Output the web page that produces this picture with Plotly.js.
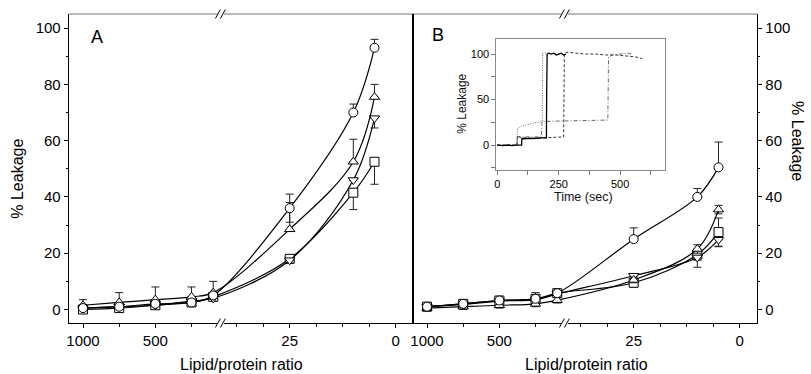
<!DOCTYPE html>
<html>
<head>
<meta charset="utf-8">
<script src="https://cdn.plot.ly/plotly-3.0.1.min.js"></script>
<style>html,body{margin:0;padding:0;background:#fff;}#chart{width:811px;height:374px;}</style>
</head>
<body>
<div id="chart"></div>
<script>
// ---------- DATA ----------
const ratios = [1000, 750, 500, 250, 100, 25, 10, 5];
const tickLabels = [1000, 500, 25, 0];
const minorTickValues = [750, 250, 37.5, 31.25, 18.75, 12.5, 6.25];

// Panel A
const A_circle = [0.5, 1, 2, 2.5, 5, 36, 70, 93];
const A_circle_errPlus = [0, 0, 0, 0, 0, 5, 3, 3];
const A_circle_errMinus = [0, 0, 0, 0, 0, 5, 0, 0];
const A_triUp = [1.5, 2.5, 3.5, 4.5, 6, 28.5, 52.5, 75.5];
const A_triUp_errPlus = [2, 3.5, 4.5, 3.5, 4, 9.5, 8, 4.5];
const A_triUp_errMinus = [0, 0, 0, 0, 0, 0, 0, 0];
const A_triDown = [0.5, 1, 1.5, 3, 4, 17.5, 46, 68];
const A_triDown_errPlus = [0, 0, 0, 0, 0, 0, 0, 0];
const A_triDown_errMinus = [0, 0, 0, 0, 0, 1, 0, 3.5];
const A_square = [0, 0.5, 1.5, 2.5, 4.5, 18, 41.5, 52.5];
const A_square_errPlus = [0, 0, 0, 0, 0, 0, 0, 0];
const A_square_errMinus = [0, 0, 0, 0, 0, 1, 6, 8];

// Panel B
const B_circle = [1, 2, 3.2, 3.8, 5.8, 25, 40, 50.5];
const B_circle_errPlus = [0.5, 0.5, 0.5, 2.2, 0.5, 4, 3, 9];
const B_circle_errMinus = [0.5, 0.5, 0.5, 0.5, 0.5, 0, 0, 0];
const B_triUp = [0.5, 1, 1.5, 2, 3.3, 10.5, 21.5, 35.5];
const B_triUp_errPlus = [1, 1, 1, 1, 1, 1, 1.5, 1.5];
const B_triUp_errMinus = [1, 1, 1, 1, 1, 1, 1.5, 1.5];
const B_triDown = [1, 1.8, 3, 3.5, 5.5, 12, 18.5, 24.8];
const B_triDown_errPlus = [0.5, 0.5, 0.5, 0.5, 0.5, 0, 0, 0];
const B_triDown_errMinus = [0.5, 0.5, 0.5, 1.5, 0.5, 1.5, 3.5, 2.5];
const B_square = [1, 2, 3.2, 3.8, 5.8, 9.5, 19.5, 27.5];
const B_square_errPlus = [1, 1, 1, 1, 1, 1.5, 2, 5];
const B_square_errMinus = [1, 1, 1, 1, 1, 1.5, 2, 5];

// Inset: time traces
const inSolid_t = [0, 20, 40, 60, 80, 99, 100, 120, 140, 160, 180, 200, 201, 203, 210, 220, 230, 240, 250, 260, 270, 280];
const inSolid_y = [0, -0.5, 0, -0.5, 0, 0, 7, 7, 7.5, 7.5, 8, 8, 55, 100, 101, 100, 101, 99, 100, 101, 99, 100];
const inDotted_t = [0, 40, 80, 82, 100, 120, 140, 160, 180, 183, 185, 200, 220];
const inDotted_y = [0, 0, 0, 18, 21, 22.5, 23.5, 24.5, 25.5, 26, 101, 101, 100];
const inDashed_t = [0, 40, 80, 82, 100, 150, 200, 250, 270, 273, 280, 320, 360, 400, 440, 480, 520, 560, 590];
const inDashed_y = [0, 0, 0, 10, 8, 7.5, 8, 8.5, 9, 100, 102, 101, 100, 100, 99, 99, 98, 97, 95];
const inDashDot_t = [0, 80, 82, 100, 140, 180, 182, 250, 300, 350, 400, 450, 453, 470, 500, 530, 545];
const inDashDot_y = [0, 0, 9, 9, 9, 9, 26, 26.5, 27, 27, 27.5, 27.5, 97, 99, 100, 101, 100];

// ---------- broken-axis transform (lipid/protein ratio -> axis position) ----------
function pos(v) { return v >= 44 ? 14 + (1000 - v) * 0.1447 : 220.7 + (25 - v) * 4.24; }
const xPos = ratios.map(pos);
const breakPos = 152.4;

const FONT = 'Liberation Sans, Arial, sans-serif';

function series(y, plus, minus, symbol, xa, ya) {
  return {
    x: xPos, y: y, xaxis: xa, yaxis: ya, type: 'scatter', mode: 'lines+markers',
    line: {color: '#000', width: 1.2, shape: 'spline', smoothing: 1},
    marker: {symbol: symbol, size: 9, color: '#fff', line: {color: '#000', width: 1}},
    error_y: {type: 'data', symmetric: false, array: plus, arrayminus: minus, color: '#222', thickness: 1, width: 4},
    showlegend: false, hoverinfo: 'skip'
  };
}
function tline(t, y, dash, color, width) {
  return {x: t, y: y, xaxis: 'x3', yaxis: 'y3', type: 'scatter', mode: 'lines',
    line: {color: color, width: width, dash: dash}, showlegend: false, hoverinfo: 'skip'};
}

const data = [
  series(A_square, A_square_errPlus, A_square_errMinus, 'square', 'x', 'y'),
  series(A_triDown, A_triDown_errPlus, A_triDown_errMinus, 'triangle-down', 'x', 'y'),
  series(A_triUp, A_triUp_errPlus, A_triUp_errMinus, 'triangle-up', 'x', 'y'),
  series(A_circle, A_circle_errPlus, A_circle_errMinus, 'circle', 'x', 'y'),
  series(B_square, B_square_errPlus, B_square_errMinus, 'square', 'x2', 'y2'),
  series(B_triDown, B_triDown_errPlus, B_triDown_errMinus, 'triangle-down', 'x2', 'y2'),
  series(B_triUp, B_triUp_errPlus, B_triUp_errMinus, 'triangle-up', 'x2', 'y2'),
  series(B_circle, B_circle_errPlus, B_circle_errMinus, 'circle', 'x2', 'y2'),
  tline(inDotted_t, inDotted_y, '1px,1.5px', '#666', 1),
  tline(inDashDot_t, inDashDot_y, '4px,2px,1px,2px', '#666', 1),
  tline(inDashed_t, inDashed_y, '3px,2px', '#333', 1),
  tline(inSolid_t, inSolid_y, 'solid', '#000', 1.3)
];

const xCommon = {
  range: [0, 344], showline: true, linecolor: '#000', linewidth: 1,
  ticks: 'outside', ticklen: 4, tickcolor: '#000',
  tickmode: 'array', tickvals: tickLabels.map(pos), ticktext: tickLabels.map(String),
  minor: {tickmode: 'array', tickvals: minorTickValues.map(pos), ticks: 'outside', ticklen: 3, tickcolor: '#000'},
  showgrid: false, zeroline: false, tickfont: {size: 15, color: '#000'}, fixedrange: true
};
const yCommon = {
  range: [-4.8, 105], showline: true, linecolor: '#000', linewidth: 1.3,
  ticks: 'outside', ticklen: 4, tickcolor: '#000', tick0: 0, dtick: 20,
  minor: {dtick: 10, ticks: 'outside', ticklen: 2, tickcolor: '#000'},
  showgrid: false, zeroline: false, tickfont: {size: 15, color: '#000'}, fixedrange: true
};

// axis-break "//" marks, drawn as shapes (x in axis units = px, y in domain units)
const PY = 1 / 309;
function breakShapes(xref, yv) {
  const yr = 'y domain';
  return [
    {type: 'rect', xref: xref, yref: yr, x0: breakPos - 3.5, x1: breakPos + 2.5, y0: yv - 2 * PY, y1: yv + 2 * PY,
      fillcolor: '#fff', line: {width: 0}},
    {type: 'line', xref: xref, yref: yr, x0: breakPos - 6, y0: yv - 4.5 * PY, x1: breakPos - 1, y1: yv + 4.5 * PY,
      line: {color: '#000', width: 1}},
    {type: 'line', xref: xref, yref: yr, x0: breakPos - 1, y0: yv - 4.5 * PY, x1: breakPos + 4, y1: yv + 4.5 * PY,
      line: {color: '#000', width: 1}}
  ];
}

const layout = {
  width: 811, height: 374,
  margin: {l: 69, r: 54, t: 14, b: 51, pad: 0},
  paper_bgcolor: '#fff', plot_bgcolor: '#fff',
  font: {family: FONT, color: '#000'},
  xaxis: Object.assign({}, xCommon, {domain: [0, 0.5], anchor: 'y'}),
  xaxis2: Object.assign({}, xCommon, {domain: [0.5, 1], anchor: 'y2'}),
  yaxis: Object.assign({}, yCommon, {domain: [0, 1], anchor: 'x', side: 'left'}),
  yaxis2: Object.assign({}, yCommon, {domain: [0, 1], anchor: 'x2', side: 'right', matches: 'y'}),
  xaxis3: {domain: [0.6212, 0.8669], anchor: 'y3', range: [-3.7, 684.5], showline: true, mirror: true,
    linecolor: '#888', linewidth: 1, ticks: 'outside', ticklen: 4, tickcolor: '#777', tick0: 0, dtick: 250,
    minor: {dtick: 125, ticks: 'outside', ticklen: 4, tickcolor: '#777'},
    showgrid: false, zeroline: false, tickfont: {size: 11, color: '#000'}, fixedrange: true},
  yaxis3: {domain: [0.4947, 0.919], anchor: 'x3', range: [-27.5, 116.5], showline: true, mirror: true,
    linecolor: '#888', linewidth: 1, ticks: 'outside', ticklen: 4, tickcolor: '#777', tick0: 0, dtick: 50,
    minor: {dtick: 25, ticks: 'outside', ticklen: 4, tickcolor: '#777'},
    showgrid: false, zeroline: false, tickfont: {size: 11, color: '#000'}, fixedrange: true},
  shapes: [
    {type: 'line', xref: 'paper', yref: 'paper', x0: 0, x1: 1, y0: 1, y1: 1, line: {color: '#777', width: 1}},
    {type: 'line', xref: 'paper', yref: 'paper', x0: 0.5, x1: 0.5, y0: 0, y1: 1, line: {color: '#000', width: 2}}
  ].concat(breakShapes('x', 0), breakShapes('x', 1), breakShapes('x2', 0), breakShapes('x2', 1)),
  annotations: [
    {xref: 'paper', yref: 'paper', x: -0.0741, y: 0.467, text: '% Leakage', textangle: -90, showarrow: false,
      font: {size: 16, family: FONT, color: '#000'}, xanchor: 'center', yanchor: 'middle'},
    {xref: 'paper', yref: 'paper', x: 1.0596, y: 0.5886, text: '% Leakage', textangle: 90, showarrow: false,
      font: {size: 16, family: FONT, color: '#000'}, xanchor: 'center', yanchor: 'middle'},
    {xref: 'paper', yref: 'paper', x: 0.25, y: -0.1338, text: 'Lipid/protein ratio', showarrow: false,
      font: {size: 16, family: FONT, color: '#000'}, xanchor: 'center', yanchor: 'middle'},
    {xref: 'paper', yref: 'paper', x: 0.7515, y: -0.1338, text: 'Lipid/protein ratio', showarrow: false,
      font: {size: 16, family: FONT, color: '#000'}, xanchor: 'center', yanchor: 'middle'},
    {xref: 'paper', yref: 'paper', x: 0.0407, y: 0.9255, text: 'A', showarrow: false,
      font: {size: 18, family: FONT, color: '#000'}, xanchor: 'center', yanchor: 'middle'},
    {xref: 'paper', yref: 'paper', x: 0.5363, y: 0.932, text: 'B', showarrow: false,
      font: {size: 18, family: FONT, color: '#000'}, xanchor: 'center', yanchor: 'middle'},
    {xref: 'paper', yref: 'paper', x: 0.5708, y: 0.7085, text: '% Leakage', textangle: -90, showarrow: false,
      font: {size: 12, family: FONT, color: '#111'}, xanchor: 'center', yanchor: 'middle'},
    {xref: 'paper', yref: 'paper', x: 0.7485, y: 0.4072, text: 'Time (sec)', showarrow: false,
      font: {size: 12.5, family: FONT, color: '#111'}, xanchor: 'center', yanchor: 'middle'}
  ]
};

Plotly.newPlot('chart', data, layout, {staticPlot: true, displayModeBar: false});
</script>
</body>
</html>
